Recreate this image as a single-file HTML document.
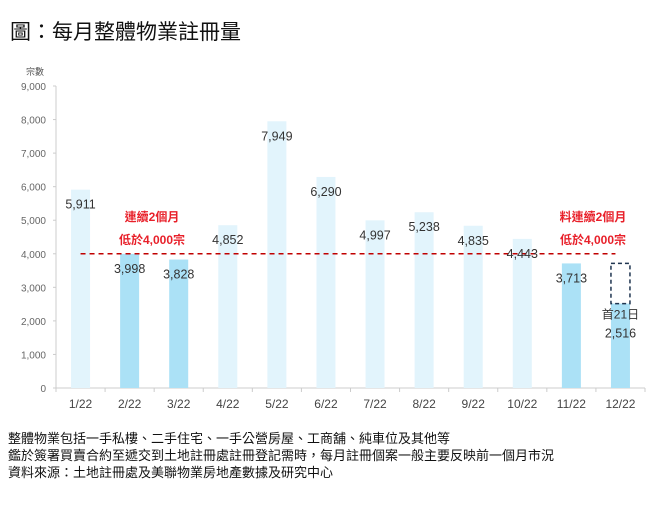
<!DOCTYPE html>
<html><head><meta charset="utf-8"><style>
body{margin:0;background:#fff;width:662px;height:511px;overflow:hidden;font-family:"Liberation Sans","Noto Sans CJK TC",sans-serif}
#title{position:absolute;left:10px;top:16px;font-size:21px;color:#111}
.note{position:absolute;left:8px;font-size:13px;color:#111}
</style></head><body>
<div id="title">圖：每月整體物業註冊量</div>
<svg id="chart" width="662" height="511" style="position:absolute;left:0;top:0"></svg>
<div class="note" style="top:428px">整體物業包括一手私樓、二手住宅、一手公營房屋、工商舖、純車位及其他等</div>
<div class="note" style="top:445px">鑑於簽署買賣合約至遞交到土地註冊處註冊登記需時，每月註冊個案一般主要反映前一個月市況</div>
<div class="note" style="top:462px">資料來源：土地註冊處及美聯物業房地產數據及研究中心</div>
<script>
const categories=["1/22","2/22","3/22","4/22","5/22","6/22","7/22","8/22","9/22","10/22","11/22","12/22"];
const values=[5911,3998,3828,4852,7949,6290,4997,5238,4835,4443,3713,2516];
const highlighted=[false,true,true,false,false,false,false,false,false,false,true,true];
const yTicks=[0,1000,2000,3000,4000,5000,6000,7000,8000,9000];
const threshold=4000;
const projected=3713;
const NS="http://www.w3.org/2000/svg";
const svg=document.getElementById('chart');
const X0=56,X1=645,Y0=388,Y9=86,YMAX=9000;
const step=(X1-X0)/categories.length;
const y=v=>Y0-(v/YMAX)*(Y0-Y9);
const xc=i=>X0+step*(i+0.5);
function mk(t,a,txt){const e=document.createElementNS(NS,t);for(const k in a)e.setAttribute(k,a[k]);if(txt!==undefined)e.textContent=txt;svg.appendChild(e);return e;}
let e=mk('text',{x:26,y:75,'font-size':9,fill:'#555'},'宗數');

e=mk('line',{x1:X0,y1:Y9,x2:X0,y2:Y0,stroke:'#ccc'});

e=mk('line',{x1:X0,y1:Y0,x2:X1,y2:Y0,stroke:'#ccc'});

yTicks.forEach(v=>{
 const t=mk('text',{x:46,y:y(v)+4,'font-size':10,fill:'#666','text-anchor':'end'},v.toLocaleString('en-US'));
 
 mk('line',{x1:X0-3,y1:y(v),x2:X0,y2:y(v),stroke:'#ccc'});
});
for(let i=0;i<=categories.length;i++)mk('line',{x1:X0+step*i,y1:Y0,x2:X0+step*i,y2:Y0+4,stroke:'#ccc'});
categories.forEach((c,i)=>{
 const b=mk('rect',{x:xc(i)-9.5,y:y(values[i]),width:19,height:Y0-y(values[i]),fill:highlighted[i]?'#abe1f6':'#e2f4fc'});
 
 const l=mk('text',{x:xc(i),y:408,'font-size':12,fill:'#444','text-anchor':'middle'},c);
 
});
e=mk('line',{x1:xc(0),y1:y(threshold),x2:xc(11)-5,y2:y(threshold),stroke:'#c00000','stroke-width':1.5,'stroke-dasharray':'5,4'});

e=mk('rect',{x:xc(11)-9.5,y:y(projected),width:19,height:y(values[11])-y(projected),fill:'none',stroke:'#1f3550','stroke-width':1.5,'stroke-dasharray':'4,3'});

values.forEach((v,i)=>{
 const yy=i===11?y(v)+15:y(v)+19;
 if(i===11){const t=mk('text',{x:xc(i),y:yy,'font-size':12,fill:'#333','text-anchor':'middle'},'首21日');}
 const t=mk('text',{x:xc(i),y:i===11?yy+19:yy,'font-size':12.5,fill:'#333','text-anchor':'middle'},v.toLocaleString('en-US'));
 
});
[[152,221,'連續2個月'],[152,244,'低於4,000宗'],[593,221,'料連續2個月'],[593,244,'低於4,000宗']].forEach(a=>{
 const t=mk('text',{x:a[0],y:a[1],'font-size':12,'font-weight':'bold',fill:'#e8202a','text-anchor':'middle'},a[2]);
 
});
</script>
</body></html>
